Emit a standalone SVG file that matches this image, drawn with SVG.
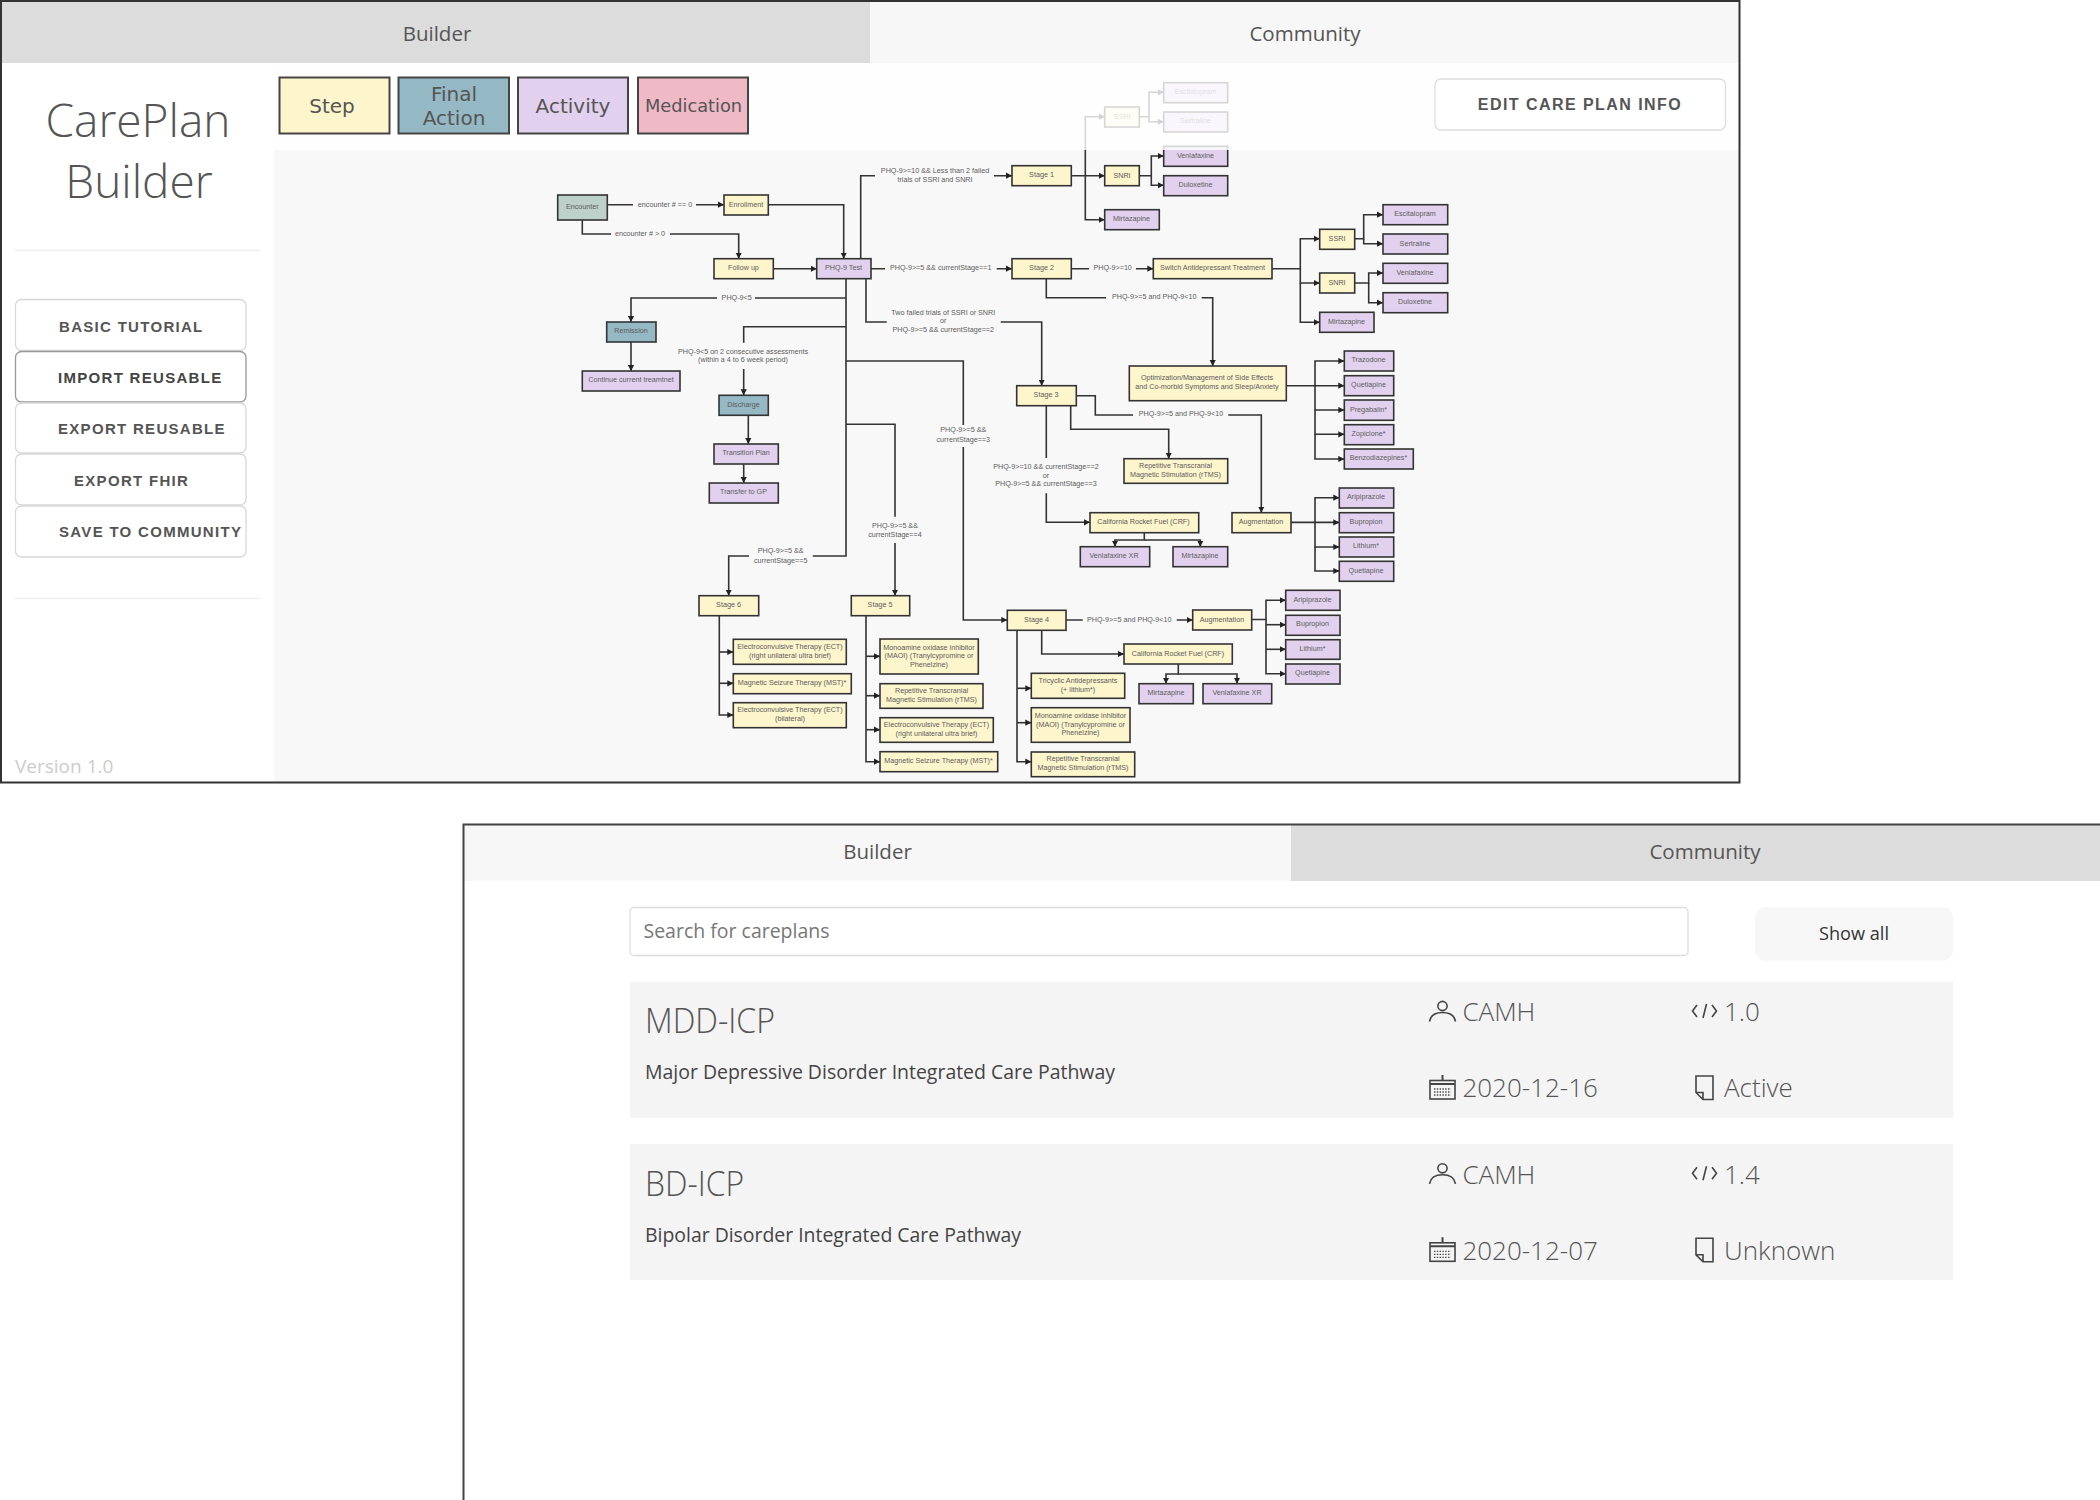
<svg xmlns="http://www.w3.org/2000/svg" xmlns:xlink="http://www.w3.org/1999/xlink" width="2100" height="1500" viewBox="0 0 2100 1500">
<style>
text{font-family:"Liberation Sans",Arial,sans-serif}
.os{font-family:"Open Sans","Noto Sans",sans-serif;fill:#555}
.lt{font-family:"Open Sans","Noto Sans",sans-serif;font-weight:300;fill:#555}
.tab{font-size:20.5px;text-anchor:middle}
.btn{fill:#fff;stroke:#d8d8d8;stroke-width:1.3}
.bt{font-weight:700;font-size:15px;fill:#555;letter-spacing:1.3px}
.lg{stroke:#444;stroke-width:2}
.lgt{font-family:"DejaVu Sans",sans-serif;font-size:20px;fill:#555;text-anchor:middle}
.n rect,rect.n{stroke:#333;stroke-width:1.6}
.st{fill:#fdf5cc}.fa{fill:#94b8c4}.ac{fill:#e2d1ee}.me{fill:#f0b9c6}.en{fill:#bdd0c9}
.n text{font-size:7.2px;fill:#5c5c5c;text-anchor:middle}
#connectors path{fill:none;stroke:#333;stroke-width:1.6}
.a{marker-end:url(#arr)}
#edge-labels text{font-size:7.2px;fill:#5c5c5c;text-anchor:middle}
.ic{fill:none;stroke:#444;stroke-width:1.6}
</style>
<defs>
<marker id="arr" markerUnits="userSpaceOnUse" markerWidth="7" markerHeight="7" refX="6" refY="3.5" orient="auto"><path d="M0,0.4 L6,3.5 L0,6.6 Z" fill="#222"/></marker>
<g id="i-person" class="ic"><circle cx="1442.5" cy="1006" r="4.6"/><path d="M1429.5,1021.5 Q1431,1012.5 1442.5,1012.5 Q1454,1012.5 1455.5,1021.5"/></g>
<g id="i-code" class="ic"><path d="M1697,1005 L1692.5,1011 L1697,1017 M1712,1005 L1716.5,1011 L1712,1017 M1706.5,1004 L1703,1018"/></g>
<g id="i-cal" class="ic"><rect x="1430" y="1080.5" width="25" height="18.5"/><path d="M1442.5,1075 V1080 M1430,1084 H1455" stroke-width="2"/><path d="M1434,1089 H1451 M1434,1092 H1451 M1434,1095 H1451" stroke-dasharray="1.4 1.4" stroke-width="1.3"/></g>
<g id="i-file" class="ic"><path d="M1696,1076 H1713 V1099.5 H1703 L1696,1092.5 Z M1696,1092.5 H1703 V1099.5"/></g>
</defs>
<rect width="2100" height="1500" fill="#fff"/>

<g id="careplan-builder-window">
<rect x="274" y="63" width="1465" height="719" fill="#f8f8f8"/>

<g id="connectors">
<path d="M607.3,204.7 H633 M696,204.7 H724" class="a"/>
<path d="M582.3,220 V234 H611 M670,234 H738.7 V258.7" class="a"/>
<path d="M768.3,204.7 H843.7 V258.7" class="a"/>
<path d="M773.3,268.7 H816.7" class="a"/>
<path d="M860.7,258.7 V175.7 H875 M994,175.7 H1012" class="a"/>
<path d="M871,268.7 H885 M996.7,268.7 H1012" class="a"/>
<path d="M846,278.7 V556 H812.7 M749,556 H728.7 V595.7" class="a"/>
<path d="M846,298 H755 M717,298 H631 V322" class="a"/>
<path d="M846,326.7 H743.7 V342.7 M743.7,369 V395.3" class="a"/>
<path d="M846,361 H963.3 V425 M963.3,447 V620 H1007.3" class="a"/>
<path d="M846,424.3 H895 V516.7 M895,543 V595.7" class="a"/>
<path d="M866,278.7 V322 H886.7 M1000.7,322 H1041.7 V385.7" class="a"/>
<path d="M631,342 V371" class="a"/>
<path d="M748.3,415.3 V444" class="a"/>
<path d="M743.7,464 V483" class="a"/>
<path d="M719.3,615.7 V715 H733.3" class="a"/>
<path d="M719.3,652 H733.3" class="a"/>
<path d="M719.3,683.3 H733.3" class="a"/>
<path d="M866,615.7 V761.7 H880" class="a"/>
<path d="M866,656.3 H880" class="a"/>
<path d="M866,695.7 H880" class="a"/>
<path d="M866,729.7 H880" class="a"/>
<path d="M1017,630.3 V761.7 H1031.3" class="a"/>
<path d="M1017,688.3 H1031.3" class="a"/>
<path d="M1017,722.7 H1031.3" class="a"/>
<path d="M1041.7,630.3 V654 H1124" class="a"/>
<path d="M1066,620 H1082.7 M1176.7,620 H1192.7" class="a"/>
<path d="M1251.7,619.5 H1266 V600.3 H1285.7" class="a"/>
<path d="M1266,624.7 H1285.7" class="a"/>
<path d="M1266,649.3 H1285.7" class="a"/>
<path d="M1266,619.5 V673.7 H1285.7" class="a"/>
<path d="M1178.3,664 V674 H1166 V683.7" class="a"/>
<path d="M1178.3,674 H1237 V683.7" class="a"/>
<path d="M1286.3,385.7 H1344.3" class="a"/>
<path d="M1315,385.7 V361 H1344.3" class="a"/>
<path d="M1315,385.7 V410 H1344.3" class="a"/>
<path d="M1315,410 V434.3 H1344.3" class="a"/>
<path d="M1315,434.3 V459 H1344.3" class="a"/>
<path d="M1291,522.4 H1339.3" class="a"/>
<path d="M1315,522.4 V497.7 H1339.3" class="a"/>
<path d="M1315,522.4 V547 H1339.3" class="a"/>
<path d="M1315,547 V571 H1339.3" class="a"/>
<path d="M1076.3,395.7 H1095.3 V415 H1133 M1228.3,415 H1261.3 V512.7" class="a"/>
<path d="M1070.7,405.7 V429.3 H1168.7 V458.7" class="a"/>
<path d="M1046.3,405.7 V458 M1046.3,493.3 V522.3 H1090" class="a"/>
<path d="M1144.3,532.7 V540 H1115 V546.7" class="a"/>
<path d="M1144.3,540 H1200.3 V546.7" class="a"/>
<path d="M1071.3,175.7 H1104.7" class="a"/>
<path d="M1085.3,175.7 V116.7 H1104.7" class="a"/>
<path d="M1085.3,175.7 V219.7 H1104.7" class="a"/>
<path d="M1139.3,175.7 H1151.3 V156 H1163.7" class="a"/>
<path d="M1151.3,175.7 V185.3 H1163.7" class="a"/>
<path d="M1139.3,116.7 H1149 V92.3 H1163.7" class="a"/>
<path d="M1149,116.7 V121.7 H1163.7" class="a"/>
<path d="M1071.3,268.7 H1089 M1136,268.7 H1153.3" class="a"/>
<path d="M1272,268.7 H1300.3 V238.7 H1319.7" class="a"/>
<path d="M1300.3,268.7 V283 H1319.7" class="a"/>
<path d="M1300.3,283 V322.3 H1319.7" class="a"/>
<path d="M1354.7,238.7 H1363.7 V214.7 H1383" class="a"/>
<path d="M1363.7,238.7 V243.7 H1383" class="a"/>
<path d="M1354.7,283 H1368.7 V273 H1383" class="a"/>
<path d="M1368.7,283 V302.7 H1383" class="a"/>
<path d="M1046.3,278.7 V297.7 H1106 M1201.7,297.7 H1212.7 V366" class="a"/>
</g>

<g id="nodes">
<g id="n-encounter" class="n"><rect class="en" x="557.7" y="195" width="49.6" height="25"/><text x="582.3" y="209">Encounter</text></g>
<g id="n-enrollment" class="n"><rect class="st" x="724" y="195" width="44.3" height="20"/><text x="746" y="206.5">Enrollment</text></g>
<g id="n-followup" class="n"><rect class="st" x="714" y="258.7" width="59.3" height="20"/><text x="743.5" y="270">Follow up</text></g>
<g id="n-phq9" class="n"><rect class="ac" x="816.7" y="258.7" width="54.3" height="20"/><text x="843.5" y="270">PHQ-9 Test</text></g>
<g id="n-remission" class="n"><rect class="fa" x="606.7" y="322" width="49.3" height="20"/><text x="631" y="333.3">Remission</text></g>
<g id="n-continue" class="n"><rect class="ac" x="582.3" y="371" width="97.7" height="20"/><text x="631" y="382.3">Continue current treamtnet</text></g>
<g id="n-discharge" class="n"><rect class="fa" x="719" y="395.3" width="49.3" height="20"/><text x="743.5" y="406.5">Discharge</text></g>
<g id="n-transition" class="n"><rect class="ac" x="714" y="444" width="64.3" height="20"/><text x="746" y="455.3">Transition Plan</text></g>
<g id="n-transfer" class="n"><rect class="ac" x="709.3" y="483" width="69" height="20"/><text x="743.5" y="494.3">Transfer to GP</text></g>

<g id="n-stage1" class="n"><rect class="st" x="1012" y="165.7" width="59.3" height="20"/><text x="1041.5" y="177">Stage 1</text></g>
<g id="n-ssri1" class="n"><rect class="st" x="1104.7" y="107" width="34.6" height="20"/><text x="1122" y="118.5">SSRI</text></g>
<g id="n-esc1" class="n"><rect class="ac" x="1163.7" y="82.7" width="64" height="20"/><text x="1195.5" y="94">Escitalopram</text></g>
<g id="n-ser1" class="n"><rect class="ac" x="1163.7" y="112" width="64" height="20"/><text x="1195.5" y="123">Sertraline</text></g>
<g id="n-snri1" class="n"><rect class="st" x="1104.7" y="165.7" width="34.6" height="20"/><text x="1122" y="177.5">SNRI</text></g>
<g id="n-ven1" class="n"><rect class="ac" x="1163.7" y="146.3" width="64" height="20"/><text x="1195.5" y="157.5">Venlafaxine</text></g>
<g id="n-dul1" class="n"><rect class="ac" x="1163.7" y="175.7" width="64" height="20"/><text x="1195.5" y="186.5">Duloxetine</text></g>
<g id="n-mir1" class="n"><rect class="ac" x="1104.7" y="209.7" width="54.6" height="20"/><text x="1131.5" y="221">Mirtazapine</text></g>

<g id="n-stage2" class="n"><rect class="st" x="1012" y="258.7" width="59.3" height="20"/><text x="1041.5" y="270">Stage 2</text></g>
<g id="n-switch" class="n"><rect class="st" x="1153.3" y="258.7" width="118.7" height="20"/><text x="1212.5" y="270">Switch Antidepressant Treatment</text></g>
<g id="n-ssri2" class="n"><rect class="st" x="1319.7" y="229.3" width="35" height="20"/><text x="1337" y="240.5">SSRI</text></g>
<g id="n-snri2" class="n"><rect class="st" x="1319.7" y="273" width="35" height="20"/><text x="1337" y="284.5">SNRI</text></g>
<g id="n-mir2" class="n"><rect class="ac" x="1319.7" y="312.3" width="54.3" height="20"/><text x="1346.5" y="324">Mirtazapine</text></g>
<g id="n-esc2" class="n"><rect class="ac" x="1383" y="204.7" width="64.7" height="20"/><text x="1415" y="216">Escitalopram</text></g>
<g id="n-ser2" class="n"><rect class="ac" x="1383" y="234" width="64.7" height="20"/><text x="1415" y="245.5">Sertraline</text></g>
<g id="n-ven2" class="n"><rect class="ac" x="1383" y="263.3" width="64.7" height="20"/><text x="1415" y="274.5">Venlafaxine</text></g>
<g id="n-dul2" class="n"><rect class="ac" x="1383" y="292.7" width="64.7" height="20"/><text x="1415" y="304">Duloxetine</text></g>

<g id="n-optim" class="n"><rect class="st" x="1129.3" y="366" width="157" height="34.7"/><text x="1207" y="379.7">Optimization/Management of Side Effects</text><text x="1207" y="389">and Co-morbid Symptoms and Sleep/Anxiety</text></g>
<g id="n-traz" class="n"><rect class="ac" x="1344.3" y="351" width="49.4" height="20"/><text x="1368.5" y="362.3">Trazodone</text></g>
<g id="n-que-a" class="n"><rect class="ac" x="1344.3" y="375.7" width="49.4" height="20"/><text x="1368.5" y="387">Quetiapine</text></g>
<g id="n-pre" class="n"><rect class="ac" x="1344.3" y="400" width="49.4" height="20.3"/><text x="1368.5" y="411.5">Pregabalin*</text></g>
<g id="n-zop" class="n"><rect class="ac" x="1344.3" y="424.7" width="49.4" height="20"/><text x="1368.5" y="436">Zopiclone*</text></g>
<g id="n-ben" class="n"><rect class="ac" x="1344.3" y="449" width="69" height="20"/><text x="1378.5" y="460.3">Benzodiazepines*</text></g>

<g id="n-stage3" class="n"><rect class="st" x="1016.7" y="385.7" width="59.6" height="20"/><text x="1046" y="397">Stage 3</text></g>
<g id="n-rtms3" class="n"><rect class="st" x="1124" y="458.7" width="103.7" height="24.6"/><text x="1175.5" y="467.7">Repetitive Transcranial</text><text x="1175.5" y="476.7">Magnetic Stimulation (rTMS)</text></g>
<g id="n-crf3" class="n"><rect class="st" x="1090" y="512.7" width="108.7" height="20"/><text x="1143.5" y="524">California Rocket Fuel (CRF)</text></g>
<g id="n-venxr3" class="n"><rect class="ac" x="1080.3" y="546.7" width="69.4" height="20"/><text x="1114" y="558">Venlafaxine XR</text></g>
<g id="n-mir3" class="n"><rect class="ac" x="1173" y="546.7" width="54.7" height="20"/><text x="1200" y="558">Mirtazapine</text></g>
<g id="n-aug3" class="n"><rect class="st" x="1232" y="512.7" width="59" height="20"/><text x="1261" y="524">Augmentation</text></g>
<g id="n-ari-b" class="n"><rect class="ac" x="1339.3" y="488" width="54.4" height="20"/><text x="1366" y="499">Aripiprazole</text></g>
<g id="n-bup-b" class="n"><rect class="ac" x="1339.3" y="512.7" width="54.4" height="20"/><text x="1366" y="524">Bupropion</text></g>
<g id="n-lit-b" class="n"><rect class="ac" x="1339.3" y="537" width="54.4" height="20"/><text x="1366" y="548">Lithium*</text></g>
<g id="n-que-b" class="n"><rect class="ac" x="1339.3" y="561.3" width="54.4" height="20"/><text x="1366" y="572.5">Quetiapine</text></g>

<g id="n-stage4" class="n"><rect class="st" x="1007.3" y="610.3" width="58.7" height="20"/><text x="1036.5" y="621.5">Stage 4</text></g>
<g id="n-aug4" class="n"><rect class="st" x="1192.7" y="610" width="59" height="20"/><text x="1222" y="621.5">Augmentation</text></g>
<g id="n-crf4" class="n"><rect class="st" x="1124" y="644" width="108.3" height="20"/><text x="1178" y="655.7">California Rocket Fuel (CRF)</text></g>
<g id="n-mir4" class="n"><rect class="ac" x="1139" y="683.7" width="54.3" height="20"/><text x="1166" y="695">Mirtazapine</text></g>
<g id="n-venxr4" class="n"><rect class="ac" x="1203" y="683.7" width="68.7" height="20"/><text x="1237" y="695">Venlafaxine XR</text></g>
<g id="n-ari-c" class="n"><rect class="ac" x="1285.7" y="590.3" width="54.3" height="20"/><text x="1312.5" y="601.5">Aripiprazole</text></g>
<g id="n-bup-c" class="n"><rect class="ac" x="1285.7" y="615.3" width="54.3" height="20"/><text x="1312.5" y="626">Bupropion</text></g>
<g id="n-lit-c" class="n"><rect class="ac" x="1285.7" y="639.7" width="54.3" height="19.6"/><text x="1312.5" y="650.5">Lithium*</text></g>
<g id="n-que-c" class="n"><rect class="ac" x="1285.7" y="664" width="54.3" height="20"/><text x="1312.5" y="675">Quetiapine</text></g>
<g id="n-tca" class="n"><rect class="st" x="1031.3" y="673.3" width="93.4" height="25"/><text x="1078" y="683">Tricyclic Antidepressants</text><text x="1078" y="692">(+ lithium*)</text></g>
<g id="n-maoi4" class="n"><rect class="st" x="1031.3" y="707.7" width="98.7" height="34.6"/><text x="1080.5" y="718.3">Monoamine oxidase inhibitor</text><text x="1080.5" y="726.7">(MAOI) (Tranylcypromine or</text><text x="1080.5" y="735.3">Phenelzine)</text></g>
<g id="n-rtms4" class="n"><rect class="st" x="1031.3" y="752" width="103.4" height="24.7"/><text x="1083" y="760.7">Repetitive Transcranial</text><text x="1083" y="769.7">Magnetic Stimulation (rTMS)</text></g>

<g id="n-stage5" class="n"><rect class="st" x="851.3" y="595.7" width="58.4" height="20"/><text x="880" y="607">Stage 5</text></g>
<g id="n-maoi5" class="n"><rect class="st" x="880" y="639" width="98.3" height="35"/><text x="929" y="649.7">Monoamine oxidase inhibitor</text><text x="929" y="658.3">(MAOI) (Tranylcypromine or</text><text x="929" y="667">Phenelzine)</text></g>
<g id="n-rtms5" class="n"><rect class="st" x="880" y="683.7" width="103" height="24.6"/><text x="931.5" y="693">Repetitive Transcranial</text><text x="931.5" y="702">Magnetic Stimulation (rTMS)</text></g>
<g id="n-ect5" class="n"><rect class="st" x="880" y="717.7" width="113.3" height="24.6"/><text x="936.5" y="727">Electroconvulsive Therapy (ECT)</text><text x="936.5" y="735.7">(right unilateral ultra brief)</text></g>
<g id="n-mst5" class="n"><rect class="st" x="880" y="751.7" width="117.7" height="20"/><text x="938.5" y="763.3">Magnetic Seizure Therapy (MST)*</text></g>

<g id="n-stage6" class="n"><rect class="st" x="699" y="595.7" width="59.7" height="20"/><text x="728.5" y="607">Stage 6</text></g>
<g id="n-ect6a" class="n"><rect class="st" x="733.3" y="639.3" width="113" height="25"/><text x="790" y="648.7">Electroconvulsive Therapy (ECT)</text><text x="790" y="657.7">(right unilateral ultra brief)</text></g>
<g id="n-mst6" class="n"><rect class="st" x="733.3" y="673.7" width="118" height="20"/><text x="792" y="685">Magnetic Seizure Therapy (MST)*</text></g>
<g id="n-ect6b" class="n"><rect class="st" x="733.3" y="702.7" width="113" height="25"/><text x="790" y="712">Electroconvulsive Therapy (ECT)</text><text x="790" y="721">(bilateral)</text></g>
</g>

<g id="edge-labels">
<text x="665" y="206.7">encounter # == 0</text>
<text x="640" y="235.7">encounter # &gt; 0</text>
<text x="935" y="172.7">PHQ-9&gt;=10 &amp;&amp; Less than 2 failed</text>
<text x="935" y="182">trials of SSRI and SNRI</text>
<text x="940.7" y="269.7">PHQ-9&gt;=5 &amp;&amp; currentStage==1</text>
<text x="736.7" y="299.7">PHQ-9&lt;5</text>
<text x="743" y="353.7">PHQ-9&lt;5 on 2 consecutive assessments</text>
<text x="743" y="361.7">(within a 4 to 6 week period)</text>
<text x="943.3" y="314.7">Two failed trials of SSRI or SNRI</text>
<text x="943.3" y="323.3">or</text>
<text x="943.3" y="331.7">PHQ-9&gt;=5 &amp;&amp; currentStage==2</text>
<text x="963.3" y="432">PHQ-9&gt;=5 &amp;&amp;</text>
<text x="963.3" y="441.7">currentStage==3</text>
<text x="895" y="528">PHQ-9&gt;=5 &amp;&amp;</text>
<text x="895" y="537.3">currentStage==4</text>
<text x="780.7" y="553">PHQ-9&gt;=5 &amp;&amp;</text>
<text x="780.7" y="562.7">currentStage==5</text>
<text x="1112.7" y="269.7">PHQ-9&gt;=10</text>
<text x="1154.3" y="299.3">PHQ-9&gt;=5 and PHQ-9&lt;10</text>
<text x="1181" y="415.7">PHQ-9&gt;=5 and PHQ-9&lt;10</text>
<text x="1046" y="469">PHQ-9&gt;=10 &amp;&amp; currentStage==2</text>
<text x="1046" y="477.7">or</text>
<text x="1046" y="486">PHQ-9&gt;=5 &amp;&amp; currentStage==3</text>
<text x="1129.3" y="621.7">PHQ-9&gt;=5 and PHQ-9&lt;10</text>
</g>

<rect id="toolbar-veil" x="274" y="63" width="1465" height="87" fill="#fff" opacity="0.8"/>

<g id="tabs-top">
<rect x="2" y="2" width="868" height="61" fill="#dcdcdc"/>
<rect x="870" y="2" width="869" height="61" fill="#f7f7f7"/>
<text class="os tab" x="437" y="41">Builder</text>
<text class="os tab" x="1305" y="41">Community</text>
</g>

<g id="sidebar">
<text class="lt" x="138" y="137" font-size="46" text-anchor="middle">CarePlan</text>
<text class="lt" x="139" y="197.7" font-size="46" text-anchor="middle">Builder</text>
<path d="M15,250.5 H260 M15,598.5 H260" stroke="#eee" stroke-width="1.3"/>
<g id="btn-tutorial"><rect class="btn" x="15.5" y="299.5" width="230.5" height="51" rx="6"/><text class="bt" x="59" y="331.5">BASIC TUTORIAL</text></g>
<g id="btn-import"><rect class="btn" x="15.5" y="351.5" width="230.5" height="50.5" rx="6" style="stroke:#999"/><text class="bt" x="58" y="382.5" style="fill:#444">IMPORT REUSABLE</text></g>
<g id="btn-export"><rect class="btn" x="15.5" y="403" width="230.5" height="50" rx="6"/><text class="bt" x="58" y="434">EXPORT REUSABLE</text></g>
<g id="btn-fhir"><rect class="btn" x="15.5" y="454" width="230.5" height="51" rx="6"/><text class="bt" x="74" y="485.5">EXPORT FHIR</text></g>
<g id="btn-save"><rect class="btn" x="15.5" y="506" width="230.5" height="51" rx="6"/><text class="bt" x="59" y="537">SAVE TO COMMUNITY</text></g>
<text class="os" x="15" y="773" font-size="19" style="fill:#ccc">Version 1.0</text>
</g>

<g id="legend">
<g id="lg-step"><rect class="lg st" x="279.5" y="77.5" width="110" height="56"/><text class="lgt" x="332" y="113">Step</text></g>
<g id="lg-final"><rect class="lg fa" x="398.5" y="77.5" width="110.5" height="56"/><text class="lgt" x="454" y="100.5">Final</text><text class="lgt" x="454" y="124.5">Action</text></g>
<g id="lg-activity"><rect class="lg ac" x="518" y="77.5" width="110" height="56"/><text class="lgt" x="573" y="113">Activity</text></g>
<g id="lg-medication"><rect class="lg me" x="638" y="77.5" width="110" height="56"/><text class="lgt" x="693.5" y="112" style="font-size:17.8px">Medication</text></g>
</g>

<g id="btn-edit"><rect x="1435" y="79" width="290.5" height="51" rx="6" fill="#fff" stroke="#ddd" stroke-width="1.3"/><text x="1580" y="110" text-anchor="middle" font-size="16" font-weight="700" fill="#555" letter-spacing="1.45">EDIT CARE PLAN INFO</text></g>

<rect x="1" y="1" width="1738.5" height="781.5" fill="none" stroke="#333" stroke-width="2"/>
</g>

<g id="community-window">
<rect x="464" y="825" width="827" height="56" fill="#f7f7f7"/>
<rect x="1291" y="825" width="809" height="56" fill="#dcdcdc"/>
<path d="M463.5,1500 V824.5 H2100" fill="none" stroke="#444" stroke-width="2"/>
<text class="os tab" x="877.5" y="859">Builder</text>
<text class="os tab" x="1705" y="859">Community</text>

<g id="search"><rect x="630" y="907.5" width="1058" height="48" rx="4" fill="#fff" stroke="#ddd" stroke-width="1.3"/><text class="os" x="643.5" y="938" font-size="20" textLength="186" lengthAdjust="spacingAndGlyphs" style="fill:#777">Search for careplans</text></g>
<g id="show-all"><rect x="1755" y="907" width="198" height="54" rx="11" fill="#f7f7f7"/><text class="os" x="1819" y="940" font-size="19" textLength="70" lengthAdjust="spacingAndGlyphs" style="fill:#333">Show all</text></g>

<g id="card-mdd">
<rect x="630" y="982" width="1323" height="136" fill="#f4f4f4"/>
<text class="lt" x="645" y="1032.7" font-size="35" textLength="130" lengthAdjust="spacingAndGlyphs">MDD-ICP</text>
<text class="os" x="645" y="1079" font-size="20" textLength="470" lengthAdjust="spacingAndGlyphs" style="fill:#444">Major Depressive Disorder Integrated Care Pathway</text>
<use href="#i-person"/><text class="lt" x="1462.4" y="1020.7" font-size="26">CAMH</text>
<use href="#i-code"/><text class="lt" x="1724" y="1020.7" font-size="26">1.0</text>
<use href="#i-cal"/><text class="lt" x="1462.4" y="1096.7" font-size="26">2020-12-16</text>
<use href="#i-file"/><text class="lt" x="1724" y="1096.7" font-size="26">Active</text>
</g>
<g id="card-bd">
<rect x="630" y="1144" width="1323" height="136" fill="#f4f4f4"/>
<text class="lt" x="645" y="1195.5" font-size="35" textLength="99" lengthAdjust="spacingAndGlyphs">BD-ICP</text>
<text class="os" x="645" y="1241.5" font-size="20" textLength="376" lengthAdjust="spacingAndGlyphs" style="fill:#444">Bipolar Disorder Integrated Care Pathway</text>
<use href="#i-person" y="162.3"/><text class="lt" x="1462.4" y="1183.5" font-size="26">CAMH</text>
<use href="#i-code" y="162.3"/><text class="lt" x="1724" y="1183.5" font-size="26">1.4</text>
<use href="#i-cal" y="162.3"/><text class="lt" x="1462.4" y="1259.5" font-size="26">2020-12-07</text>
<use href="#i-file" y="162.3"/><text class="lt" x="1724" y="1259.5" font-size="26">Unknown</text>
</g>
</g>
</svg>
